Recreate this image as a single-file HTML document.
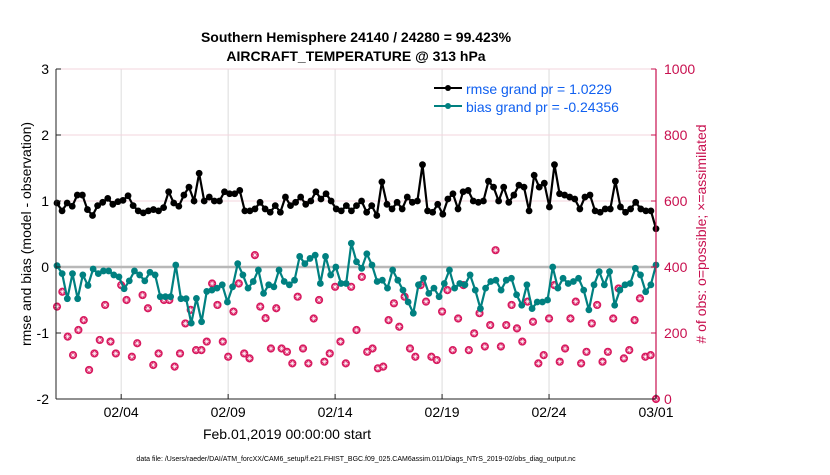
<!DOCTYPE html>
<html><head><meta charset="utf-8">
<style>
body{margin:0;background:#fff;width:830px;height:470px;overflow:hidden;font-family:"Liberation Sans",Arial,sans-serif;}
svg text{font-family:"Liberation Sans",Arial,sans-serif;}
</style></head>
<body>
<svg id="chart" width="830" height="470" viewBox="0 0 830 470" xmlns="http://www.w3.org/2000/svg">
<rect x="0" y="0" width="830" height="470" fill="#fff"/>
<text x="356" y="42" font-size="14" font-weight="bold" text-anchor="middle">Southern Hemisphere 24140 / 24280 = 99.423%</text>
<text x="356" y="61" font-size="14" font-weight="bold" text-anchor="middle">AIRCRAFT_TEMPERATURE @ 313 hPa</text>
<g id="grid"></g>
<g id="marks"></g>
<g id="axes"></g>
<text transform="translate(31,234) rotate(-90)" font-size="14" text-anchor="middle">rmse and bias (model - observation)</text>
<text transform="translate(706,234) rotate(-90)" font-size="14" text-anchor="middle" fill="#c8104f"># of obs: o=possible; ×=assimilated</text>
<text x="287" y="439" font-size="14" text-anchor="middle">Feb.01,2019 00:00:00 start</text>
<text x="356" y="461" font-size="7" text-anchor="middle">data file: /Users/raeder/DAI/ATM_forcXX/CAM6_setup/f.e21.FHIST_BGC.f09_025.CAM6assim.011/Diags_NTrS_2019-02/obs_diag_output.nc</text>
<g>
<line x1="434" y1="88" x2="462" y2="88" stroke="#000" stroke-width="2"/>
<circle cx="448" cy="88" r="3" fill="#000"/>
<text x="466" y="94" font-size="14" fill="#1060f0">rmse grand pr = 1.0229</text>
<line x1="434" y1="106" x2="462" y2="106" stroke="#008080" stroke-width="2"/>
<circle cx="448" cy="106" r="3" fill="#008080"/>
<text x="466" y="112" font-size="14" fill="#1060f0">bias grand pr = -0.24356</text>
</g>
</svg>
<script>
const rmseValues=[0.97,0.85,0.97,0.92,1.09,1.09,0.87,0.78,0.93,0.98,1.04,0.95,0.99,1.01,1.08,0.93,0.85,0.82,0.85,0.87,0.85,0.90,1.14,0.97,0.92,1.09,1.21,1.0,1.42,
1.0,1.06,1.0,1.0,1.14,1.11,1.11,1.16,0.85,0.85,0.88,0.98,0.88,0.83,0.93,0.83,1.06,0.93,0.98,1.06,0.95,1.0,1.14,1.03,1.11,1.0,0.88,0.85,0.93,
0.85,0.93,1.0,0.83,0.93,0.78,1.29,0.95,0.88,0.98,0.88,1.06,0.98,1.0,1.55,0.85,0.83,0.95,0.8,1.03,1.11,0.88,1.14,1.16,1.0,0.98,1.0,1.3,1.21,1.0,
1.21,0.98,1.09,1.24,1.21,0.85,1.39,1.21,1.27,0.91,1.55,1.11,1.09,1.06,1.03,0.88,1.06,1.09,0.85,0.83,0.88,0.88,1.3,0.91,0.83,0.88,0.98,0.88,0.85,0.85,0.58];
const biasValues=[0.02,-0.1,-0.48,-0.1,-0.48,-0.12,-0.28,-0.03,-0.1,-0.06,-0.06,-0.12,-0.15,-0.33,-0.21,-0.06,-0.12,-0.21,-0.08,-0.12,-0.45,-0.45,-0.45,0.03,-0.48,-0.48,-0.85,
-0.475,-0.83,-0.37,-0.35,-0.32,-0.27,-0.53,-0.3,0.05,-0.12,-0.32,-0.22,-0.045,-0.4,-0.27,-0.3,-0.045,-0.22,-0.27,-0.2,0.16,0.05,0.13,0.18,-0.25,0.16,-0.12,0.0,-0.25,
-0.25,0.36,0.08,-0.02,0.2,0.03,-0.22,-0.2,-0.32,-0.045,-0.2,-0.35,-0.53,-0.7,-0.27,-0.17,-0.4,-0.32,-0.45,-0.25,-0.045,-0.32,-0.25,-0.27,-0.12,-0.35,-0.63,-0.32,-0.22,-0.2,
-0.35,-0.2,-0.17,-0.42,-0.58,-0.27,-0.63,-0.53,-0.53,-0.5,0.0,-0.32,-0.17,-0.25,-0.22,-0.17,-0.35,-0.65,-0.27,-0.07,-0.27,-0.07,-0.58,-0.35,-0.27,-0.25,-0.02,-0.12,-0.375,-0.27,0.03];
const obsCounts=[280,325,189,133,209,239,88,138,179,285,174,138,345,300,128,169,315,275,103,138,300,300,98,138,229,270,148,
148,174,350,285,174,128,265,350,138,123,436,280,245,153,275,153,143,108,310,153,108,244,300,113,138,340,
174,108,340,209,370,143,153,93,98,239,290,219,310,153,128,345,295,128,118,265,330,148,244,345,148,199,260,159,224,
451,159,224,285,214,174,295,234,108,133,244,345,113,153,244,295,108,143,229,285,113,143,244,335,123,148,239,305,128,133,0];
const leftTicks=[3,2,1,0,-1,-2];
const rightTicks=[1000,800,600,400,200];
const dateTickDays=[3,8,13,18,23,28];
const dateTickLabels=["02/04","02/09","02/14","02/19","02/24","03/01"];

const X0=57,X1=656,Y0=69,Y1=399,NS="http://www.w3.org/2000/svg";
const xDay=d=>X0+(X1-X0)*d/28;
const yL=v=>Y1-(v+2)*(Y1-Y0)/5;
const yR=c=>Y1-c*(Y1-Y0)/1000;
function mk(tag,attrs,parent){const e=document.createElementNS(NS,tag);for(const k in attrs)e.setAttribute(k,attrs[k]);parent.appendChild(e);return e;}
const grid=document.getElementById('grid'),marks=document.getElementById('marks'),axes=document.getElementById('axes');
dateTickDays.forEach(d=>{const l=mk('line',{x1:xDay(d),x2:xDay(d),y1:Y0,y2:Y1,stroke:'#dcdcdc','stroke-width':1},grid);

});
rightTicks.forEach(c=>{const l=mk('line',{x1:X0-1,x2:X1,y1:yR(c),y2:yR(c),stroke:'#f3d4de','stroke-width':1},grid);

});
const zl=mk('line',{x1:X0-1,x2:X1,y1:yL(0),y2:yL(0),stroke:'#b8b8b8','stroke-width':2.5},grid);



function xi(i,n){return xDay(28*i/(n-1));}
obsCounts.forEach((c,i)=>{const g=mk('g',{},marks);


const x=xi(i,obsCounts.length),y=yR(c);
mk('circle',{cx:x,cy:y,r:3.7,fill:'#d81b60',stroke:'#d81b60','stroke-width':0.8},g);
mk('path',{d:`M${x-2.5} ${y}H${x+2.5}M${x} ${y-2.5}V${y+2.5}M${x-1.8} ${y-1.8}L${x+1.8} ${y+1.8}M${x-1.8} ${y+1.8}L${x+1.8} ${y-1.8}`,stroke:'#fff','stroke-width':0.6},g);});
function series(vals,color,name){
 const pts=vals.map((v,i)=>[xi(i,vals.length),yL(v)]);
 const p=mk('polyline',{points:pts.map(q=>q.join(',')).join(' '),fill:'none',stroke:color,'stroke-width':2.2},marks);
 
 
 pts.forEach(q=>{const c=mk('circle',{cx:q[0],cy:q[1],r:3.4,fill:color},marks);
 
 });
}
series(rmseValues,'#000','rmse');
series(biasValues,'#008080','bias');
mk('line',{x1:X0-1,x2:X0-1,y1:Y0,y2:Y1,stroke:'#222','stroke-width':1},axes);
mk('line',{x1:X0-1,x2:X1,y1:Y1,y2:Y1,stroke:'#222','stroke-width':1},axes);
mk('line',{x1:X1,x2:X1,y1:Y0,y2:Y1,stroke:'#c8104f','stroke-width':1.2},axes);
leftTicks.forEach(v=>{mk('line',{x1:X0-1,x2:X0+4,y1:yL(v),y2:yL(v),stroke:'#222'},axes);
const t=mk('text',{x:X0-8,y:yL(v)+5,'font-size':14,'text-anchor':'end'},axes);t.textContent=v;

});
rightTicks.forEach(c=>{mk('line',{x1:X1-5,x2:X1,y1:yR(c),y2:yR(c),stroke:'#c8104f'},axes);
const t=mk('text',{x:X1+8,y:yR(c)+5,'font-size':14,fill:'#c8104f'},axes);t.textContent=c;

});
const t0=mk('text',{x:X1+8,y:yR(0)+5,'font-size':14,fill:'#c8104f'},axes);t0.textContent='0';


dateTickDays.forEach((d,i)=>{mk('line',{x1:xDay(d),x2:xDay(d),y1:Y1,y2:Y1-5,stroke:'#222'},axes);
const t=mk('text',{x:xDay(d),y:Y1+18,'font-size':14,'text-anchor':'middle'},axes);t.textContent=dateTickLabels[i];

});
</script>
</body></html>
